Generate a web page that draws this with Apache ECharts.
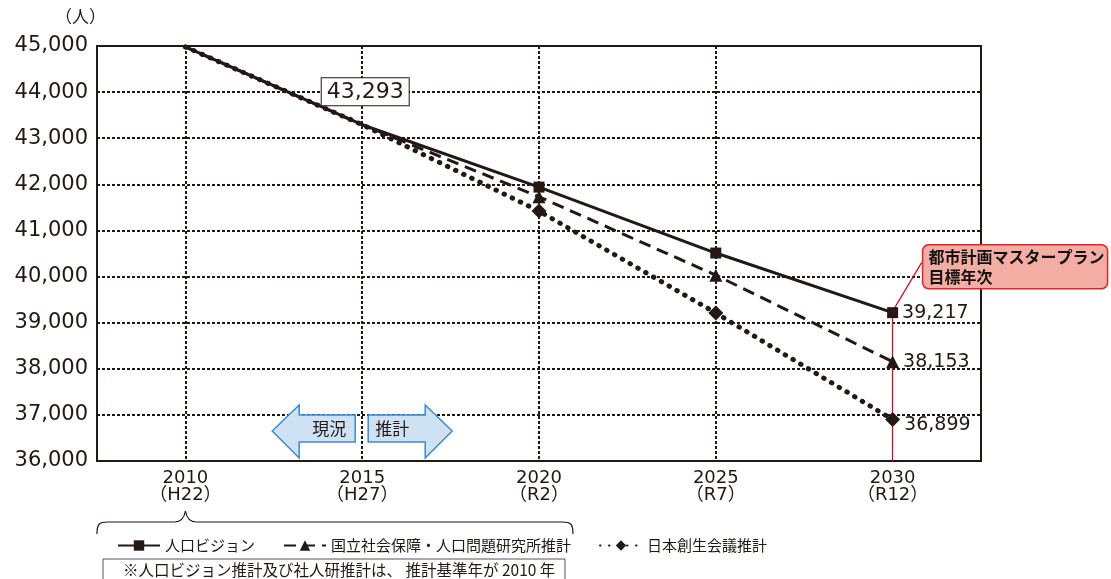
<!DOCTYPE html>
<html><head><meta charset="utf-8">
<script src="https://cdn.jsdelivr.net/npm/echarts@6/dist/echarts.min.js"></script>
<style>html,body{margin:0;padding:0;background:#fff}#c{width:1111px;height:579px}</style>
</head><body><div id="c"></div>
<script>
const years = ['2010', '2015', '2020', '2025', '2030'];
const eras = ['（H22）', '（H27）', '（R2）', '（R7）', '（R12）'];
const vision = [44980, 43293, 41940, 40510, 39217];
const ipss = [44980, 43293, 41730, 40030, 38153];
const jpc = [44980, 43293, 41420, 39210, 36899];
const yMin = 36000, yMax = 45000, yStep = 1000;
const names = ['人口ビジョン', '国立社会保障・人口問題研究所推計', '日本創生会議推計'];

const INK = '#231815';
const NUM = 'DejaVu Sans, "Noto Sans CJK JP", sans-serif';
const JP = '"Noto Sans CJK JP", sans-serif';
const fmt = v => v.toLocaleString('en-US');

function mk(vals, extra) {
  return vals.map((v, i) => {
    const d = { value: v };
    if (i < 2) { d.symbolSize = 1; d.itemStyle = { color: 'rgba(0,0,0,0)' }; }
    if (i === 4) d.label = Object.assign({ show: true, position: 'right', distance: 4, formatter: p => fmt(p.value), fontSize: 19, fontFamily: NUM, color: INK }, extra || {});
    return d;
  });
}

const visionData = mk(vision);
visionData[1].label = { show: true, position: 'top', distance: 19, offset: [3, 0], formatter: p => fmt(p.value), fontSize: 22, fontFamily: NUM, color: INK, backgroundColor: '#fff', borderColor: INK, borderWidth: 1, padding: [3, 5, 2, 5] };
const ipssData = mk(ipss);
const jpcData = mk(jpc, { offset: [0, 6] });

const chart = echarts.init(document.getElementById('c'), null, { renderer: 'canvas' });
const gridLine = { color: INK, width: 2, type: [3, 2] };

const vLines = years.slice(0, 4).map((y, i) => [{ coord: [i, yMax] }, { coord: [i, yMin] }]);
const redLine = [{ coord: [4, vision[4]], lineStyle: { color: '#e60012', width: 1.2, type: 'solid' } }, { coord: [4, yMin] }];

chart.setOption({
  animation: false,
  grid: { left: 97, right: 130, top: 46, bottom: 118, show: true, borderColor: INK, borderWidth: 2, backgroundColor: 'transparent' },
  xAxis: {
    type: 'category', data: years, boundaryGap: true,
    axisLine: { show: true, lineStyle: { color: INK, width: 2 } },
    axisTick: { show: false }, splitLine: { show: false },
    axisLabel: { formatter: (v, i) => v + '\n' + eras[i], fontSize: 18, lineHeight: 17, margin: 9, color: INK, fontFamily: NUM }
  },
  yAxis: {
    type: 'value', min: yMin, max: yMax, interval: yStep,
    axisLine: { show: true, lineStyle: { color: INK, width: 2 } },
    axisTick: { show: false },
    splitLine: { show: true, lineStyle: gridLine },
    axisLabel: { formatter: v => fmt(v), fontSize: 21, color: INK, fontFamily: NUM, margin: 9 }
  },
  legend: {
    left: 112, top: 533, itemWidth: 42, itemHeight: 13, itemGap: 28,
    textStyle: { fontSize: 15, fontFamily: JP, color: INK },
    data: names
  },
  series: [
    {
      name: names[0], type: 'line', data: visionData, symbol: 'rect', symbolSize: 11, showSymbol: true, showAllSymbol: true,
      lineStyle: { color: INK, width: 3 }, itemStyle: { color: INK }, z: 5,
      markLine: { silent: true, symbol: ['none', 'none'], label: { show: false }, lineStyle: gridLine, data: vLines.concat([redLine]), z: 1 }
    },
    {
      name: names[1], type: 'line', data: ipssData, symbol: 'triangle', symbolSize: 13, showAllSymbol: true,
      lineStyle: { color: INK, width: 3, type: [12, 7] }, itemStyle: { color: INK }, z: 4
    },
    {
      name: names[2], type: 'line', data: jpcData, symbol: 'diamond', symbolSize: 15, showAllSymbol: true,
      lineStyle: { color: INK, width: 5, type: [0.5, 8.5], cap: 'round' }, itemStyle: { color: INK }, z: 3
    }
  ]
});

// annotations positioned from the chart's own scales
const px = (i, v) => chart.convertToPixel({ gridIndex: 0 }, [i, v]);
const cx = px(1, 37000)[0];
const ay = px(1, 36650)[1];
const p2030 = px(4, vision[4]);
const p2010 = px(0, yMin);
const p2020 = px(2, yMin);
const gridLeft = 97;

const fill = '#cfe2f4', stroke = '#3b8bd3';
const graphics = [
  { type: 'text', left: 55, top: 8, style: { text: '（人）', font: '17px "Noto Sans CJK JP"', fill: INK } },
  { type: 'polygon', shape: { points: [[cx - 90, ay], [cx - 63, ay - 26], [cx - 63, ay - 16], [cx - 7, ay - 16], [cx - 7, ay + 11], [cx - 63, ay + 11], [cx - 63, ay + 27]] }, style: { fill, stroke, lineWidth: 1.5 } },
  { type: 'polygon', shape: { points: [[cx + 6, ay - 16], [cx + 63, ay - 16], [cx + 63, ay - 26], [cx + 90, ay], [cx + 63, ay + 27], [cx + 63, ay + 11], [cx + 6, ay + 11]] }, style: { fill, stroke, lineWidth: 1.5 } },
  { type: 'text', x: cx - 33, y: ay - 2, style: { text: '現況', font: '17px "Noto Sans CJK JP"', fill: INK, align: 'center', verticalAlign: 'middle' } },
  { type: 'text', x: cx + 30, y: ay - 2, style: { text: '推計', font: '17px "Noto Sans CJK JP"', fill: INK, align: 'center', verticalAlign: 'middle' } },
  { type: 'line', shape: { x1: p2030[0] + 1, y1: p2030[1] - 3, x2: p2030[0] + 29, y2: p2030[1] - 50 }, style: { stroke: '#e60012', lineWidth: 1.2 } },
  { type: 'rect', shape: { x: p2030[0] + 30, y: p2030[1] - 68, width: 185, height: 44, r: 6 }, style: { fill: '#f4ada2', stroke: '#e8202a', lineWidth: 1.5 } },
  { type: 'text', x: p2030[0] + 36, y: p2030[1] - 66, style: { text: '都市計画マスタープラン\n目標年次', font: 'bold 16px "Noto Sans CJK JP"', fill: '#111', lineHeight: 20 } },
  { type: 'bezierCurve', shape: { x1: gridLeft, y1: 534, cpx1: gridLeft, cpy1: 524, cpx2: gridLeft + 2, cpy2: 522, x2: gridLeft + 11, y2: 522 }, style: { stroke: INK, lineWidth: 1.2, fill: null } },
  { type: 'line', shape: { x1: gridLeft + 11, y1: 522, x2: p2010[0] - 11, y2: 522 }, style: { stroke: INK, lineWidth: 1.2 } },
  { type: 'bezierCurve', shape: { x1: p2010[0] - 11, y1: 522, cpx1: p2010[0] - 4, cpy1: 522, cpx2: p2010[0] - 1, cpy2: 517, x2: p2010[0], y2: 511 }, style: { stroke: INK, lineWidth: 1.2, fill: null } },
  { type: 'bezierCurve', shape: { x1: p2010[0], y1: 511, cpx1: p2010[0] + 1, cpy1: 517, cpx2: p2010[0] + 4, cpy2: 522, x2: p2010[0] + 11, y2: 522 }, style: { stroke: INK, lineWidth: 1.2, fill: null } },
  { type: 'line', shape: { x1: p2010[0] + 11, y1: 522, x2: p2020[0] + 23, y2: 522 }, style: { stroke: INK, lineWidth: 1.2 } },
  { type: 'bezierCurve', shape: { x1: p2020[0] + 23, y1: 522, cpx1: p2020[0] + 32, cpy1: 522, cpx2: p2020[0] + 34, cpy2: 524, x2: p2020[0] + 34, y2: 534 }, style: { stroke: INK, lineWidth: 1.2, fill: null } },
  { type: 'rect', shape: { x: 103, y: 559, width: 462, height: 40 }, style: { fill: '#fff', stroke: '#555', lineWidth: 1 } },
  { type: 'text', x: 123, y: 562, style: { text: '※人口ビジョン推計及び社人研推計は、 推計基準年が 2010 年', font: '15.5px "Noto Sans CJK JP"', fill: INK } }
];
chart.setOption({ graphic: graphics });
</script>
</body></html>
